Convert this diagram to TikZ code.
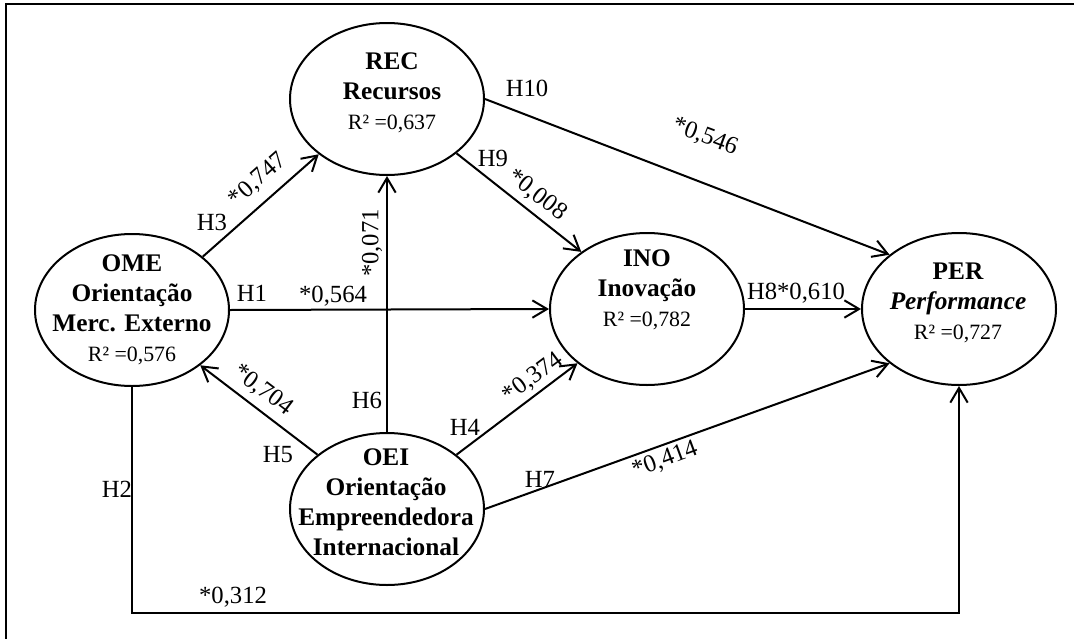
\documentclass[tikz,border=0pt]{standalone}
\usepackage{fontspec}
\setmainfont{Liberation Serif}
\usetikzlibrary{arrows.meta,shapes.geometric}

\newcommand{\rsqfont}{\mdseries\fontsize{16.4}{21}\selectfont}

\tikzset{
  construct/.style={ellipse, draw, line width=1.5pt, minimum width=145.5pt,
    minimum height=114pt, inner sep=0pt},
  ctext/.style={align=center, inner sep=0pt,
    font=\fontsize{19}{22.5}\selectfont\bfseries},
  path/.style={line width=1.5pt, -{Straight Barb[length=11pt,width=13pt,line width=1.5pt]}},
  lbl/.style={inner sep=0pt, font=\fontsize{18.5}{20}\selectfont},
}

\begin{document}
\begin{tikzpicture}[x=0.75pt, y=-0.75pt]
\useasboundingbox (0,0) rectangle (1074,639);

% frame
\draw[line width=2pt] (1074,4) -- (6,4) -- (6,639);

% latent constructs
\node[construct] (rec) at (387,99)  {};
\node[construct] (ome) at (132,310) {};
\node[construct] (ino) at (647,309) {};
\node[construct] (per) at (959,309) {};
\node[construct] (oei) at (387,509) {};

\node[ctext] (recT) at (392,93)  {REC\\Recursos\\{\rsqfont R² =0,637}};
\node[ctext] (omeT) at (132,310) {OME\\Orientação\\Merc. Externo\\{\rsqfont R² =0,576}};
\node[ctext] (inoT) at (647,290) {INO\\Inovação\\{\rsqfont R² =0,782}};
\node[ctext] (perT) at (958,303) {PER\\\textit{Performance}\\{\rsqfont R² =0,727}};
\node[ctext] (oeiT) at (386,502) {OEI\\Orientação\\Empreendedora\\Internacional};

% structural paths
\coordinate (h2c) at (500,613);
\draw[path] (ome.37)  -- (rec.219);
\draw[path] (rec.322) -- (ino.139);
\draw[path] (rec.east) -- (per.142);
\draw[path] (ome.east) -- (ino.west);
\draw[path] (oei.north) -- (rec.south);
\draw[path] (oei.142) -- (ome.321);
\draw[path] (oei.38)  -- (ino.218);
\draw[path] (oei.east) -- (per.218);
\draw[path] (ino.east) -- (per.west);
\draw[path] (ome.south) |- (h2c) -| (per.south);

% hypothesis labels
\node[lbl] (h1)  at (252,293) {H1};
\node[lbl] (h2)  at (117,489) {H2};
\node[lbl] (h3)  at (212,222) {H3};
\node[lbl] (h4)  at (465,427) {H4};
\node[lbl] (h5)  at (278,455) {H5};
\node[lbl] (h6)  at (367,400) {H6};
\node[lbl] (h7)  at (540,479) {H7};
\node[lbl] (h9)  at (493,158) {H9};
\node[lbl] (h10) at (527,88)  {H10};
\node[lbl] (h8)  at (796,293) {H8*0,610};

% path coefficients
\node[lbl] (c1) at (333,296) {*0,564};
\node[lbl] (c2) at (233,597) {*0,312};
\node[lbl, rotate=41.6]  (c3) at (258,180) {*0,747};
\node[lbl, rotate=36.8]  (c4) at (533,378) {*0,374};
\node[lbl, rotate=-37]   (c5) at (263,390) {*0,704};
\node[lbl, rotate=90]    (c6) at (372,243) {*0,071};
\node[lbl, rotate=20.4]  (c7) at (665,460) {*0,414};
\node[lbl, rotate=-38]   (c9) at (537,195) {*0,008};
\node[lbl, rotate=-20.6] (c10) at (705,137) {*0,546};
\end{tikzpicture}
\end{document}
